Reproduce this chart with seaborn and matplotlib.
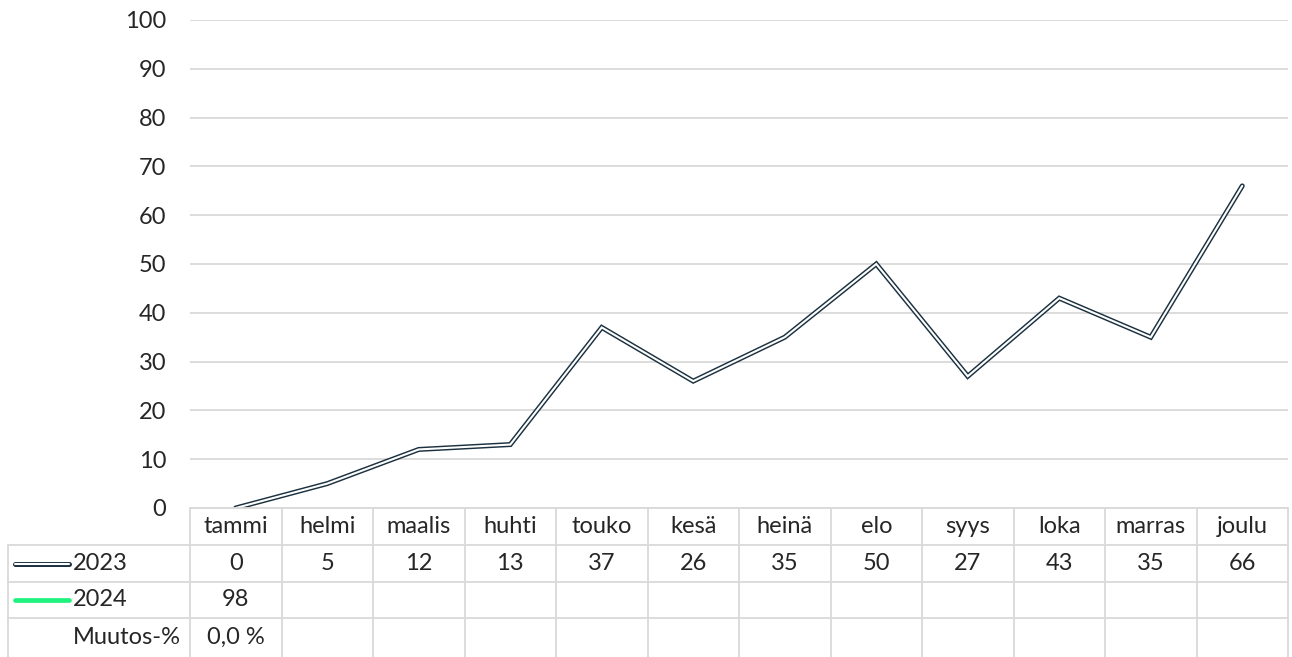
import numpy as np
import pandas as pd
import matplotlib
matplotlib.use("Agg")
import matplotlib.pyplot as plt
import matplotlib.transforms as mtrans
import seaborn as sns

months = ["tammi", "helmi", "maalis", "huhti", "touko", "kesä",
          "heinä", "elo", "syys", "loka", "marras", "joulu"]
v2023 = [0, 5, 12, 13, 37, 26, 35, 50, 27, 43, 35, 66]
v2024 = [98]
muutos = ["0,0 %"]
yticks = [0, 10, 20, 30, 40, 50, 60, 70, 80, 90, 100]

dark = "#1b3140"
green = "#1ef27f"
grid = "#d9d9d9"
fs = 17

sns.set_style("white")
plt.rcParams['font.family'] = ['Lato', 'DejaVu Sans']
plt.rcParams['font.size'] = fs

W, H = 1292, 657
fig = plt.figure(figsize=(W / 100, H / 100), dpi=100)

# plot area (pixel box 190..1288 x 20..508)
ax = fig.add_axes([190 / W, (H - 508) / H, (1288 - 190) / W, (508 - 20) / H])
df = pd.DataFrame({"kk": months, "2023": v2023})
sns.lineplot(data=df, x="kk", y="2023", ax=ax, color=dark, lw=3.6,
             solid_capstyle="round", solid_joinstyle="miter")
sns.lineplot(data=df, x="kk", y="2023", ax=ax, color="white", lw=1.5,
             solid_capstyle="round", solid_joinstyle="miter")
df24 = pd.DataFrame({"kk": months[:len(v2024)], "2024": v2024})
sns.lineplot(data=df24, x="kk", y="2024", ax=ax, color=green, lw=3)

ax.set_xlim(-0.5, len(months) - 0.5)
ax.set_ylim(0, 100)
ax.set_yticks(yticks)
ax.set_yticklabels([str(t) for t in yticks])
ax.set_xticks([])
ax.set_xlabel("")
ax.set_ylabel("")
ax.tick_params(axis="y", length=0, pad=17, labelsize=fs)
ax.grid(axis="y", color=grid, lw=1.3)
ax.set_axisbelow(True)
for s in ax.spines.values():
    s.set_visible(False)

# data table below the chart
tab = fig.add_axes([0, 0, 1, 1], facecolor="none")
tab.set_xlim(0, W)
tab.set_ylim(H, 0)
tab.axis("off")
tr = mtrans.blended_transform_factory(ax.transData, tab.transData)

rows = [508, 545, 582, 618, H]
n = len(months)
# vertical lines between month columns
for i in range(n + 1):
    tab.plot([i - 0.5, i - 0.5], [508, H], color=grid, lw=1.3, transform=tr, clip_on=False)
tab.plot([-0.5, n - 0.5], [508, 508], color=grid, lw=1.3, transform=tr, clip_on=False)
for y in rows[1:4]:
    tab.plot([8, 1288], [y, y], color=grid, lw=1.3)
tab.plot([8, 8], [545, H], color=grid, lw=1.3)

def cy(r):
    return (rows[r] + rows[r + 1]) / 2

for i, m in enumerate(months):
    tab.text(i, cy(0), m, ha="center", va="center", transform=tr, fontsize=fs)
for i, v in enumerate(v2023):
    tab.text(i, cy(1), str(v), ha="center", va="center", transform=tr, fontsize=fs)
for i, v in enumerate(v2024):
    tab.text(i, cy(2), str(v), ha="center", va="center", transform=tr, fontsize=fs)
for i, v in enumerate(muutos):
    tab.text(i, cy(3), v, ha="center", va="center", transform=tr, fontsize=fs)

# legend keys + row labels
tab.plot([15, 69], [cy(1), cy(1)], color=dark, lw=3.6, solid_capstyle="round")
tab.plot([15, 69], [cy(1), cy(1)], color="white", lw=1.5, solid_capstyle="round")
tab.plot([15, 69], [cy(2), cy(2)], color=green, lw=3.4, solid_capstyle="round")
tab.text(73, cy(1), "2023", ha="left", va="center", fontsize=fs)
tab.text(73, cy(2), "2024", ha="left", va="center", fontsize=fs)
tab.text(73, cy(3), "Muutos-%", ha="left", va="center", fontsize=fs)

fig.savefig("out.png", dpi=100)
